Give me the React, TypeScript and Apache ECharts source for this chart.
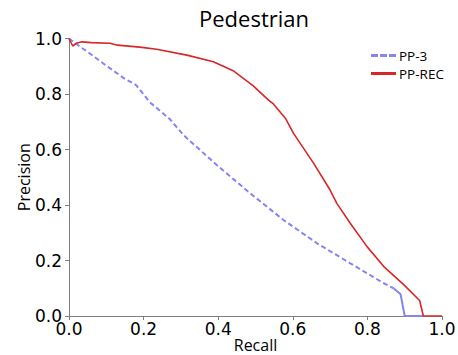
import React, { useEffect, useRef } from "react";
import * as echarts from "echarts";

const xTicks = [0, 0.2, 0.4, 0.6, 0.8, 1.0];
const yTicks = [0, 0.2, 0.4, 0.6, 0.8, 1.0];

const recRecall = [0, 0.01, 0.02, 0.035, 0.06, 0.11, 0.13, 0.19, 0.235, 0.316, 0.387, 0.44, 0.494, 0.535, 0.548, 0.58, 0.602, 0.656, 0.7, 0.718, 0.754, 0.799, 0.844, 0.898, 0.94, 0.95, 1.0];
const recPrecision = [1.0, 0.973, 0.983, 0.988, 0.985, 0.983, 0.976, 0.969, 0.961, 0.94, 0.916, 0.884, 0.829, 0.778, 0.764, 0.713, 0.658, 0.55, 0.454, 0.406, 0.334, 0.25, 0.178, 0.112, 0.056, 0, 0];

const pp3Recall = [0, 0.03, 0.05, 0.092, 0.146, 0.18, 0.217, 0.27, 0.307, 0.396, 0.486, 0.575, 0.665, 0.754, 0.844, 0.87];
const pp3Precision = [1.0, 0.97, 0.952, 0.91, 0.858, 0.832, 0.77, 0.71, 0.652, 0.544, 0.442, 0.346, 0.262, 0.19, 0.118, 0.1];

const pp3TailRecall = [0.87, 0.889, 0.9, 0.95];
const pp3TailPrecision = [0.1, 0.078, 0, 0];

const BLUE = "#8585f2";
const RED = "#d92626";

const zip = (a: number[], b: number[]) => a.map((v, i) => [v, b[i]]);

const DASH_ICON = "path://M0,0L7,0L7,3L0,3ZM9,0L16,0L16,3L9,3ZM18,0L25,0L25,3L18,3Z";
const SOLID_ICON = "path://M0,0L25,0L25,3L0,3Z";

export default function App() {
  const ref = useRef<HTMLDivElement>(null);
  useEffect(() => {
    const chart = echarts.init(ref.current!, null, { renderer: "svg" });
    const axisLine = { show: true, lineStyle: { color: "#7f7f7f", width: 1 } };
    chart.setOption({
      animation: false,
      backgroundColor: "#ffffff",
      title: {
        text: "Pedestrian",
        left: 249,
        top: 2,
        textAlign: "center",
        textStyle: { fontFamily: "Open Sans", fontSize: 22, fontWeight: "normal", color: "#000" },
      },
      legend: {
        orient: "vertical",
        left: 366,
        top: 43,
        itemGap: 3,
        itemWidth: 25,
        itemHeight: 3,
        textStyle: { fontFamily: "Open Sans", fontSize: 13.5, lineHeight: 15, color: "#000", padding: [0, 0, 0, -2] },
        data: [
          { name: "PP-3", icon: DASH_ICON, itemStyle: { color: BLUE } },
          { name: "PP-REC", icon: SOLID_ICON, itemStyle: { color: RED } },
        ],
      },
      grid: { left: 69, right: 16, top: 38.5, bottom: 39, outerBoundsMode: "none", containLabel: false },
      xAxis: {
        type: "value",
        min: 0,
        max: 1,
        interval: 0.2,
        name: "Recall",
        nameLocation: "middle",
        nameGap: 21,
        nameMoveOverlap: false,
        nameTextStyle: { fontFamily: "Open Sans", fontSize: 16, color: "#000" },
        axisLine,
        axisTick: { show: true, length: 4, lineStyle: { color: "#7f7f7f" } },
        axisLabel: {
          fontFamily: "DejaVu Sans",
          fontSize: 17,
          color: "#000",
          margin: 4,
          formatter: (v: number) => v.toFixed(1),
          customValues: xTicks,
        },
        splitLine: { show: false },
      },
      yAxis: {
        type: "value",
        min: 0,
        max: 1,
        interval: 0.2,
        name: "Precision",
        nameLocation: "middle",
        nameGap: 37,
        nameMoveOverlap: false,
        nameTextStyle: { fontFamily: "Open Sans", fontSize: 16, color: "#000" },
        axisLine,
        axisTick: { show: true, length: 4, lineStyle: { color: "#7f7f7f" } },
        axisLabel: {
          fontFamily: "DejaVu Sans",
          fontSize: 17,
          color: "#000",
          margin: 7,
          formatter: (v: number) => v.toFixed(1),
          customValues: yTicks,
        },
        splitLine: { show: false },
      },
      series: [
        {
          name: "PP-3",
          type: "line",
          data: zip(pp3Recall, pp3Precision),
          showSymbol: false,
          symbol: "none",
          lineStyle: { color: BLUE, width: 2, type: [5, 3] },
          itemStyle: { color: BLUE },
          z: 2,
        },
        {
          name: "PP-3-tail",
          type: "line",
          data: zip(pp3TailRecall, pp3TailPrecision),
          showSymbol: false,
          symbol: "none",
          lineStyle: { color: BLUE, width: 2 },
          itemStyle: { color: BLUE },
          z: 2,
        },
        {
          name: "PP-REC",
          type: "line",
          data: zip(recRecall, recPrecision),
          showSymbol: false,
          symbol: "none",
          lineStyle: { color: RED, width: 1.6 },
          itemStyle: { color: RED },
          z: 3,
        },
      ],
    });
    return () => chart.dispose();
  }, []);
  return (
    <div
      ref={ref}
      style={{ position: "fixed", left: 0, top: 0, width: 458, height: 355 }}
    />
  );
}
